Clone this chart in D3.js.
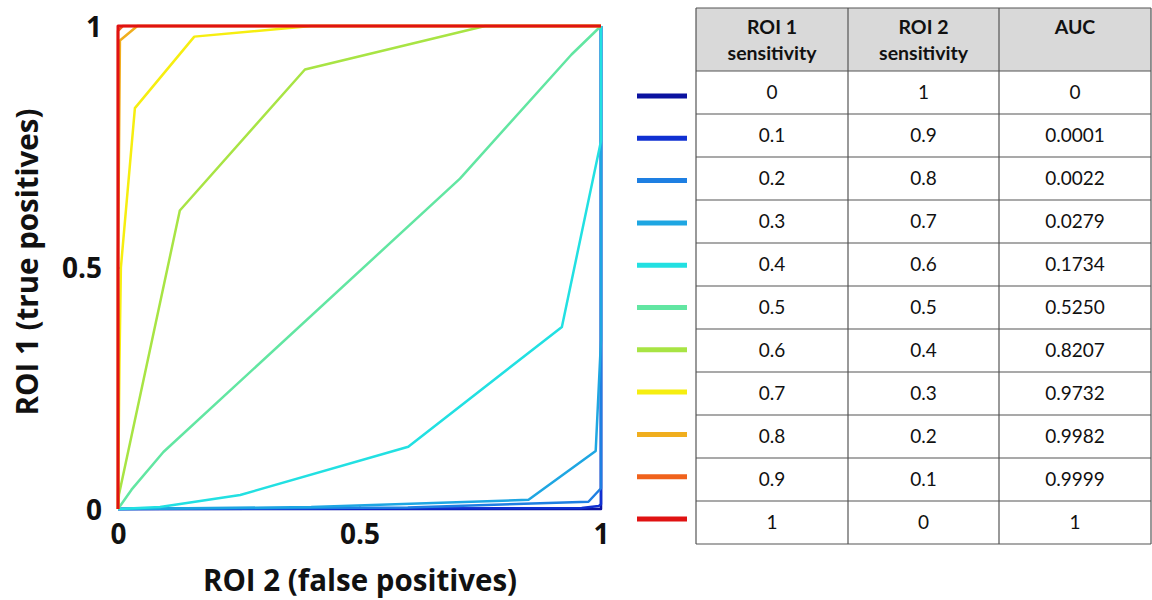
<!DOCTYPE html>
<html>
<head>
<meta charset="utf-8">
<script src="https://cdn.jsdelivr.net/npm/d3@7"></script>
<style>
  body { margin: 0; background: #fff; }
  svg { display: block; }
</style>
</head>
<body>
<script>
var w = 1152;
var h = 600;

// table values
var roi1Sens = ["0", "0.1", "0.2", "0.3", "0.4", "0.5", "0.6", "0.7", "0.8", "0.9", "1"];
var roi2Sens = ["1", "0.9", "0.8", "0.7", "0.6", "0.5", "0.4", "0.3", "0.2", "0.1", "0"];
var aucVals = ["0", "0.0001", "0.0022", "0.0279", "0.1734", "0.5250", "0.8207", "0.9732", "0.9982", "0.9999", "1"];
var headers = [["ROI 1", "sensitivity"], ["ROI 2", "sensitivity"], ["AUC", ""]];
var colors = ["#0b12a0", "#1030d2", "#1e7fe2", "#1ea6e2", "#22e0e2", "#62e6a2", "#a8e444", "#f6ee10", "#f0ae1e", "#f0621c", "#e01212"];
var xTicks = [0, 0.5, 1];
var yTicks = [0, 0.5, 1];

// ROC curves, [false positive rate, true positive rate]
var rocCurves = [
  [[0, 0], [1, 0], [1, 1]],
  [[0, 0], [0.96, 0.002], [0.995, 0.006], [1, 0.01], [1, 1]],
  [[0, 0], [0.6, 0.003], [0.974, 0.015], [1, 0.043], [1, 1]],
  [[0, 0], [0.4, 0.004], [0.85, 0.019], [0.989, 0.12], [1, 0.35], [1, 1]],
  [[0, 0], [0.087, 0.004], [0.253, 0.029], [0.601, 0.129], [0.919, 0.377], [1, 0.762], [1, 1]],
  [[0, 0], [0.028, 0.04], [0.094, 0.118], [0.708, 0.684], [0.939, 0.941], [1, 1]],
  [[0, 0], [0.002, 0.03], [0.128, 0.618], [0.387, 0.91], [0.76, 1], [1, 1]],
  [[0, 0], [0.003, 0.3], [0.006, 0.5], [0.035, 0.83], [0.158, 0.978], [0.40, 1], [1, 1]],
  [[0, 0], [0, 0.5], [0.004, 0.97], [0.04, 1], [1, 1]],
  [[0, 0], [0, 0.99], [0.01, 1], [1, 1]],
  [[0, 0], [0, 1], [1, 1]]
];

var xScale = d3.scaleLinear().domain([0, 1]).range([118, 601]);
var yScale = d3.scaleLinear().domain([0, 1]).range([509, 26]);

var svg = d3.select("body")
  .append("svg")
  .attr("width", w)
  .attr("height", h)
  .style("font-family", "Lato, 'Open Sans', sans-serif");

// axes
var fmt = function(d) { return d === 0.5 ? "0.5" : d; };
var xAxis = d3.axisBottom(xScale).tickValues(xTicks).tickSize(-4).tickPadding(12).tickFormat(fmt);
var yAxis = d3.axisLeft(yScale).tickValues(yTicks).tickSize(-4).tickPadding(16).tickFormat(fmt);

var gx = svg.append("g").attr("transform", "translate(0," + yScale(0) + ")").call(xAxis);
var gy = svg.append("g").attr("transform", "translate(" + xScale(0) + ",0)").call(yAxis);
[gx, gy].forEach(function(g) {
  g.select(".domain").attr("stroke", "#888");
  g.selectAll(".tick line").attr("stroke", "#666");
  g.selectAll(".tick text")
    .attr("fill", "#111")
    .style("font-size", "28px")
    .style("font-weight", "bold")
    .style("font-family", "'Open Sans', sans-serif");
});
gx.selectAll(".tick text").attr("dy", "0.82em");
gy.selectAll(".tick text").attr("dy", "0.36em");

// curves
var line = d3.line()
  .x(function(d) { return xScale(d[0]); })
  .y(function(d) { return yScale(d[1]); });

svg.selectAll("path.roc")
  .data(rocCurves)
  .enter()
  .append("path")
  .attr("class", "roc")
  .attr("d", line)
  .attr("fill", "none")
  .attr("stroke", function(d, i) { return colors[i]; })
  .attr("stroke-width", function(d, i) { return i === 10 ? 3 : 2.5; })
  .attr("stroke-linejoin", "round");

// axis titles
svg.append("text")
  .attr("text-anchor", "middle")
  .attr("x", 360)
  .attr("y", 591)
  .text("ROI 2 (false positives)")
  .style("font-size", "29.5px")
  .style("font-weight", "bold")
  .style("font-family", "'Open Sans', sans-serif")
  .attr("fill", "#111");

svg.append("text")
  .attr("text-anchor", "middle")
  .attr("transform", "translate(38,262) rotate(-90)")
  .text("ROI 1 (true positives)")
  .style("font-size", "29.5px")
  .style("font-weight", "bold")
  .style("font-family", "'Open Sans', sans-serif")
  .attr("fill", "#111");

// table
var colEdges = [696, 848, 999, 1151];
var tableTop = 8;
var headBottom = 71;
var rowScale = d3.scaleBand().domain(d3.range(roi1Sens.length)).range([headBottom, 544]);
var tbl = svg.append("g");

tbl.append("rect")
  .attr("x", colEdges[0])
  .attr("y", tableTop)
  .attr("width", colEdges[3] - colEdges[0])
  .attr("height", headBottom - tableTop)
  .attr("fill", "#d9d9d9");

headers.forEach(function(hd, c) {
  var cx = (colEdges[c] + colEdges[c + 1]) / 2;
  hd.forEach(function(t, k) {
    tbl.append("text")
      .attr("x", cx)
      .attr("y", 34 + k * 26)
      .attr("text-anchor", "middle")
      .style("font-size", "19.5px")
      .style("font-weight", "bold")
      .attr("fill", "#111")
      .text(t);
  });
});

var cols = [roi1Sens, roi2Sens, aucVals];
cols.forEach(function(vals, c) {
  var cx = (colEdges[c] + colEdges[c + 1]) / 2;
  tbl.selectAll("text.c" + c)
    .data(vals)
    .enter()
    .append("text")
    .attr("class", "c" + c)
    .attr("x", cx)
    .attr("y", function(d, i) { return rowScale(i) + rowScale.bandwidth() / 2; })
    .attr("dy", "0.35em")
    .attr("text-anchor", "middle")
    .style("font-size", "19px")
    .attr("fill", "#111")
    .text(function(d) { return d; });
});

// grid lines
var hLines = [tableTop, headBottom].concat(d3.range(1, roi1Sens.length + 1).map(function(i) {
  return rowScale(i - 1) + rowScale.bandwidth();
}));
tbl.selectAll("line.h")
  .data(hLines)
  .enter()
  .append("line")
  .attr("x1", colEdges[0]).attr("x2", colEdges[3])
  .attr("y1", function(d) { return d; }).attr("y2", function(d) { return d; })
  .attr("stroke", "#555").attr("stroke-width", 1.2);

tbl.selectAll("line.v")
  .data(colEdges)
  .enter()
  .append("line")
  .attr("y1", tableTop).attr("y2", 544)
  .attr("x1", function(d) { return d; }).attr("x2", function(d) { return d; })
  .attr("stroke", "#555").attr("stroke-width", 1.2);

// legend swatches
var swatchY = d3.scaleLinear().domain([0, colors.length - 1]).range([96, 519]);
svg.selectAll("line.swatch")
  .data(colors)
  .enter()
  .append("line")
  .attr("class", "swatch")
  .attr("x1", 637).attr("x2", 687)
  .attr("y1", function(d, i) { return swatchY(i); })
  .attr("y2", function(d, i) { return swatchY(i); })
  .attr("stroke", function(d) { return d; })
  .attr("stroke-width", 5);
</script>
</body>
</html>
